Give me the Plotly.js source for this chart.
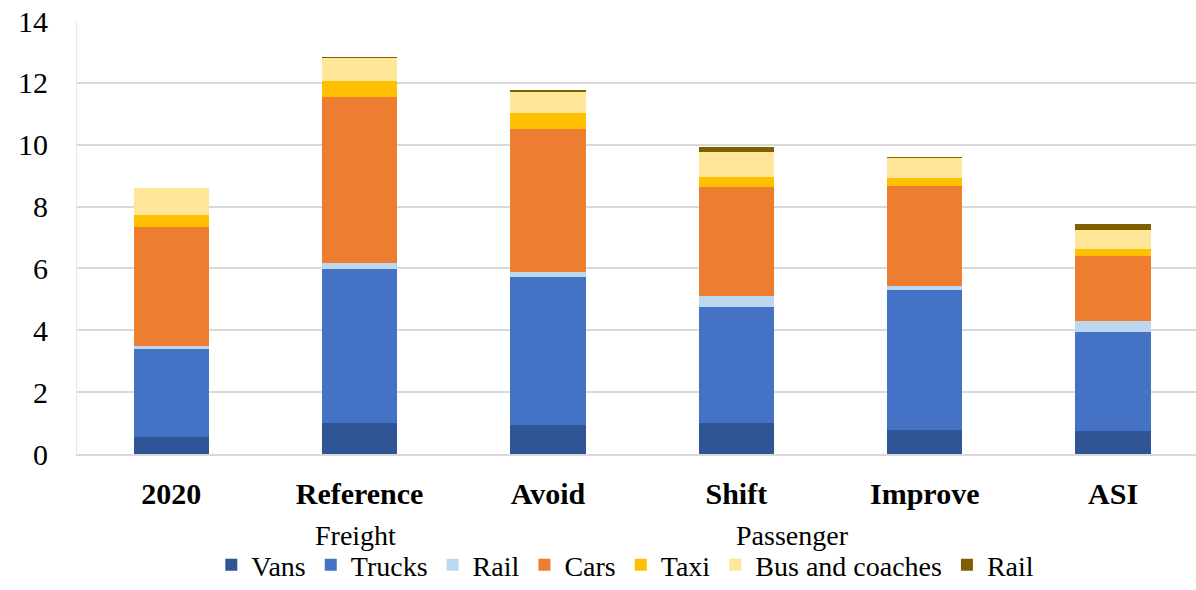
<!DOCTYPE html>
<html>
<head>
<meta charset="utf-8">
<script src="https://cdn.plot.ly/plotly-3.0.1.min.js"></script>
<style>html,body{margin:0;padding:0;background:#fff;}#chart{width:1196px;height:590px;}</style>
</head>
<body>
<div id="chart"></div>
<script>
const categories = ["2020", "Reference", "Avoid", "Shift", "Improve", "ASI"];
const seriesNames = ["Vans", "Trucks", "Rail", "Cars", "Taxi", "Bus and coaches", "Rail"];
const vans      = [0.56, 0.99, 0.94, 0.99, 0.78, 0.74];
const trucks    = [2.82, 4.99, 4.77, 3.77, 4.52, 3.21];
const railFreight = [0.11, 0.19, 0.16, 0.35, 0.14, 0.35];
const cars      = [3.86, 5.38, 4.64, 3.51, 3.23, 2.11];
const taxi      = [0.38, 0.51, 0.53, 0.33, 0.26, 0.21];
const bus       = [0.86, 0.73, 0.67, 0.80, 0.63, 0.62];
const railPass  = [0.02, 0.06, 0.06, 0.19, 0.05, 0.19];
const groupTitles = ["Freight", "Passenger"];

const colors = ["#2F5597", "#4472C4", "#BDD7EE", "#ED7D31", "#FFC000", "#FFE699", "#7F6000"];
const allValues = [vans, trucks, railFreight, cars, taxi, bus, railPass];

const font = "'Liberation Serif', 'Times New Roman', serif";
const fs = 30;
const lfs = 28;
const traces = allValues.map((vals, i) => ({
  type: "bar",
  name: seriesNames[i],
  x: categories,
  y: vals,
  marker: {color: colors[i], line: {width: 0}},
  hoverinfo: "name+y"
}));

const layout = {
  width: 1196, height: 590,
  barmode: "stack",
  bargap: 0.6,
  margin: {l: 77, r: 0, t: 21, b: 136},
  paper_bgcolor: "#fff",
  plot_bgcolor: "#fff",
  font: {family: font, size: fs, color: "#000"},
  xaxis: {
    type: "category",
    range: [-0.5, 5.44],
    automargin: false,
    tickfont: {family: font, size: fs, color: "#000", weight: "bold"},
    ticks: "outside", ticklen: 12, tickcolor: "rgba(0,0,0,0)",
    showline: true, linecolor: "#d9d9d9", linewidth: 2,
    showgrid: false
  },
  yaxis: {
    range: [0, 14],
    dtick: 2,
    automargin: false,
    tickfont: {family: font, size: fs, color: "#000"},
    ticks: "outside", ticklen: 22, tickcolor: "rgba(0,0,0,0)",
    showgrid: true, gridcolor: "#d9d9d9", gridwidth: 2,
    zeroline: false, showline: true, linecolor: "#e6e6e6", linewidth: 1
  },
  showlegend: true,
  legend: {
    orientation: "h",
    xref: "paper", x: 0.49, xanchor: "center",
    yref: "container", y: 0, yanchor: "bottom",
    font: {family: font, size: lfs, color: "#000"},
    itemwidth: 30,
    traceorder: "normal",
    itemclick: false
  },
  annotations: [
    {text: groupTitles[0], xref: "paper", yref: "paper", x: (355 - 77) / 1119, y: (454 - 535) / 433, showarrow: false,
     font: {family: font, size: lfs, color: "#000"}, xanchor: "center", yanchor: "middle"},
    {text: groupTitles[1], xref: "paper", yref: "paper", x: (793 - 77) / 1119, y: (454 - 535) / 433, showarrow: false,
     font: {family: font, size: lfs, color: "#000"}, xanchor: "center", yanchor: "middle"}
  ]
};

Plotly.newPlot("chart", traces, layout, {displayModeBar: false, staticPlot: true});
</script>
</body>
</html>
